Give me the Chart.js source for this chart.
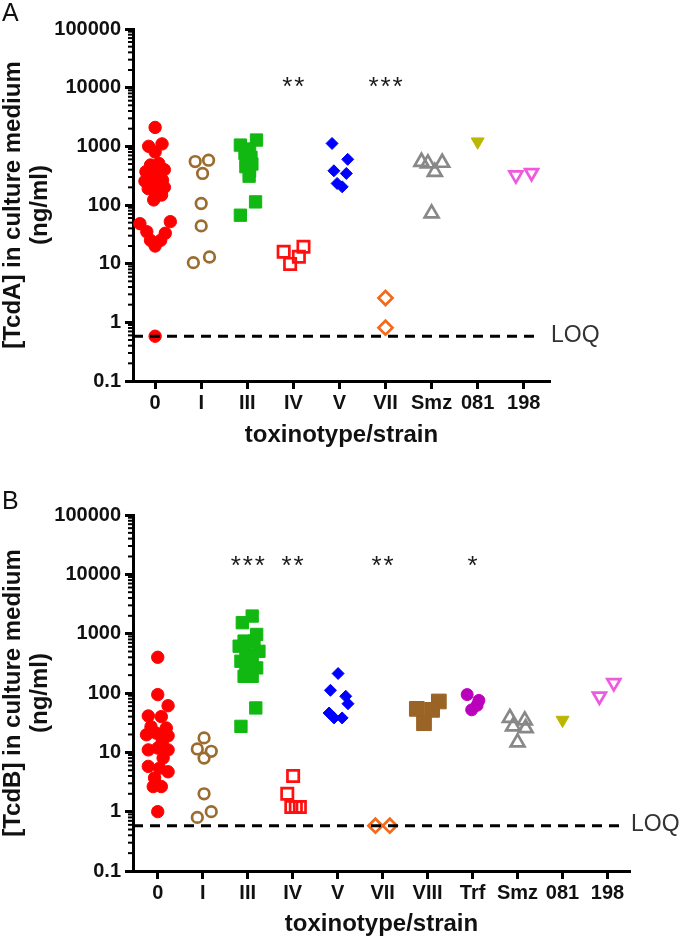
<!DOCTYPE html>
<html>
<head>
<meta charset="utf-8">
<script src="https://cdn.jsdelivr.net/npm/chart.js@4.4.1/dist/chart.umd.min.js"></script>
<style>
  body { margin: 0; background: #fff; }
  canvas { position: absolute; left: 0; }
</style>
</head>
<body>
<canvas id="chartA" width="680" height="470" style="top:0"></canvas>
<canvas id="chartB" width="680" height="473" style="top:470px"></canvas>
<script>
const FONT = "'Liberation Sans', Arial, sans-serif"

// shared y axis (ng/ml, log)
const yTicks = [0.1, 1, 10, 100, 1000, 10000, 100000]
const LOQ = 0.58

// panel A - TcdA
const catsA = ['0', 'I', 'III', 'IV', 'V', 'VII', 'Smz', '081', '198']
const starsA = ['', '', '', '**', '', '***', '', '', '']

const a0 = [2100, 1000, 1100, 800, 510, 480, 400, 370, 340, 290, 265, 255, 215, 200, 190, 160, 148, 122, 52, 48, 35, 33, 25, 25, 20, 0.58]
const a0x = [0, -0.14, 0.15, 0, 0.08, -0.1, 0.2, -0.2, 0.02, -0.08, 0.16, -0.22, 0.04, 0.2, -0.15, 0, 0.14, -0.03, 0.33, -0.33, -0.18, 0.22, -0.1, 0.12, 0, 0]
const aI = [550, 580, 345, 106, 44, 10.4, 13]
const aIx = [-0.13, 0.16, 0.03, 0, 0, -0.17, 0.18]
const aIII = [1050, 1280, 900, 760, 650, 580, 500, 450, 380, 310, 113, 67]
const aIIIx = [-0.15, 0.2, 0.05, -0.05, 0.08, -0.02, 0.1, -0.03, 0.05, 0.04, 0.18, -0.15]
const aIV = [16, 19.4, 13.1, 9.9]
const aIVx = [-0.21, 0.22, 0.12, -0.07]
const aV = [1120, 600, 383, 345, 233, 204]
const aVx = [-0.16, 0.18, -0.12, 0.15, -0.05, 0.06]
const aVII = [2.6, 0.81]
const aVIIx = [0, 0]
const aSmz = [545, 512, 525, 368, 72]
const aSmzx = [-0.22, -0.08, 0.23, 0.07, 0]
const a081 = [1200]
const a081x = [0]
const a198 = [323, 354]
const a198x = [-0.17, 0.17]

// panel B - TcdB
const catsB = ['0', 'I', 'III', 'IV', 'V', 'VII', 'VIII', 'Trf', 'Smz', '081', '198']
const starsB = ['', '', '***', '**', '', '**', '', '*', '', '', '']

const b0 = [400, 94, 61, 41, 40, 27, 25.7, 19.8, 21, 19, 15, 11, 11.8, 11, 8, 5.8, 5.4, 4.7, 3.7, 2.65, 2.65, 1.0]
const b0x = [0, 0, 0.23, -0.21, 0.08, -0.15, 0.19, -0.25, -0.03, 0.23, 0.1, -0.21, 0, 0.23, 0.12, -0.21, 0.04, 0.23, -0.07, -0.1, 0.08, 0]
const bI = [17.5, 11.4, 10.4, 8, 2.0, 1.0, 0.8]
const bIx = [0.03, -0.12, 0.19, 0.03, 0.03, 0.19, -0.12]
const bIII = [1980, 1530, 970, 750, 750, 615, 505, 505, 420, 366, 343, 300, 265, 265, 191, 191, 56, 27.4]
const bIIIx = [0.1, -0.12, 0.2, -0.08, 0.14, -0.19, -0.04, 0.25, 0.05, 0.1, -0.15, 0.05, -0.04, 0.2, -0.08, 0.1, 0.18, -0.15]
const bIV = [4.0, 2.0, 1.2, 1.2, 1.2]
const bIVx = [0.01, -0.12, -0.03, 0.07, 0.16]
const bV = [213, 111, 88, 66, 46, 38, 38]
const bVx = [0.01, -0.16, 0.18, 0.23, -0.19, -0.08, 0.1]
const bVII = [0.58, 0.58]
const bVIIx = [-0.16, 0.16]
const bVIII = [72, 54, 52, 31]
const bVIIIx = [0.25, -0.24, 0.1, -0.08]
const bTrf = [94, 75, 62, 52]
const bTrfx = [-0.12, 0.14, 0.1, -0.02]
const bSmz = [38, 34.5, 27.4, 25.5, 14.7]
const bSmzx = [-0.17, 0.16, -0.1, 0.18, 0]
const b081 = [35]
const b081x = [0]
const b198 = [88, 148]
const b198x = [-0.18, 0.14]

// marker look per toxinotype/strain
const markers = {
  '0': { color: '#ff0000', shape: 'circle', open: false, r: 6.2 },
  I: { color: '#9c6b2e', shape: 'circle', open: true, r: 5.3 },
  III: { color: '#12b812', shape: 'rect', open: false, r: 8.7 },
  IV: { color: '#ff1010', shape: 'rect', open: true, r: 8 },
  V: { color: '#0000ff', shape: 'rectRot', open: false, r: 6 },
  VII: { color: '#f26a1b', shape: 'rectRot', open: true, r: 7 },
  VIII: { color: '#9a6426', shape: 'rect', open: false, r: 10.4 },
  Trf: { color: '#bb00bb', shape: 'circle', open: false, r: 6 },
  Smz: { color: '#888888', shape: 'triangle', open: true, r: 8 },
  '081': { color: '#bdb600', shape: 'triangle', open: false, r: 7.5, rot: 180 },
  '198': { color: '#ee5ade', shape: 'triangle', open: true, r: 7.5, rot: 180 },
}

function group(cats, cat, vals, jit) {
  const m = markers[cat]
  const idx = cats.indexOf(cat)
  return {
    label: cat,
    data: vals.map((v, i) => ({ x: idx + jit[i], y: v })),
    pointStyle: m.shape,
    pointRotation: m.rot || 0,
    pointRadius: m.r,
    pointBorderWidth: m.open ? 2.7 : 1,
    pointBorderColor: m.color,
    pointBackgroundColor: m.open ? 'rgba(0,0,0,0)' : m.color,
    showLine: false,
    clip: false,
  }
}

const decor = {
  id: 'decor',
  afterDraw(chart, args, o) {
    const { ctx, chartArea: a, scales } = chart
    const x = scales.x
    const y = scales.y
    ctx.save()

    // minor log ticks
    ctx.strokeStyle = '#000'
    ctx.lineWidth = 2
    for (let k = -1; k < 5; k++) {
      for (let m = 2; m < 10; m++) {
        const py = y.getPixelForValue(m * Math.pow(10, k))
        ctx.beginPath()
        ctx.moveTo(a.left - 5, py)
        ctx.lineTo(a.left, py)
        ctx.stroke()
      }
    }

    // LOQ line
    const ly = y.getPixelForValue(LOQ)
    const lineEnd = a.right - 9
    ctx.setLineDash([10, 7])
    ctx.lineWidth = 3
    ctx.beginPath()
    ctx.moveTo(a.left, ly)
    ctx.lineTo(lineEnd, ly)
    ctx.stroke()
    ctx.setLineDash([])
    ctx.font = `23px ${FONT}`
    ctx.fillStyle = '#333'
    ctx.textAlign = 'left'
    ctx.textBaseline = 'middle'
    ctx.fillText('LOQ', lineEnd + 10, ly - 1)

    // significance stars
    ctx.font = `26px ${FONT}`
    ctx.fillStyle = '#1a1a1a'
    ctx.textAlign = 'center'
    ctx.textBaseline = 'alphabetic'
    const sy = y.getPixelForValue(o.starLevel) + 15
    o.stars.forEach((s, i) => {
      const cx = x.getPixelForValue(i)
      for (let j = 0; j < s.length; j++) {
        ctx.fillText('*', cx + (j - (s.length - 1) / 2) * 12, sy)
      }
    })

    // panel letter
    ctx.font = `25px ${FONT}`
    ctx.fillStyle = '#111'
    ctx.textAlign = 'left'
    ctx.textBaseline = 'top'
    ctx.fillText(o.letter, 2, o.letterTop)
    ctx.restore()
  },
}

function makeChart(id, cfg) {
  return new Chart(document.getElementById(id), {
    type: 'scatter',
    data: { datasets: cfg.datasets },
    options: {
      responsive: false,
      animation: false,
      events: [],
      layout: { padding: { top: cfg.top, right: cfg.right, left: 0, bottom: 0 } },
      plugins: {
        legend: { display: false },
        tooltip: { enabled: false },
        decor: { letter: cfg.letter, letterTop: cfg.letterTop, stars: cfg.stars, starLevel: cfg.starLevel },
      },
      scales: {
        x: {
          type: 'linear',
          min: cfg.xMin,
          max: cfg.xMax,
          afterBuildTicks: (s) => {
            s.ticks = cfg.cats.map((c, i) => ({ value: i }))
          },
          afterFit: (s) => {
            s.height = cfg.xHeight
          },
          ticks: {
            autoSkip: false,
            maxRotation: 0,
            padding: 2,
            color: '#111',
            font: { family: FONT, size: 20, weight: 'bold' },
            callback: (v, i) => cfg.cats[i],
          },
          grid: { drawOnChartArea: false, drawTicks: true, tickLength: 8, tickWidth: 3, tickColor: '#000' },
          border: { display: true, width: 3, color: '#000' },
          title: {
            display: true,
            text: 'toxinotype/strain',
            color: '#111',
            font: { family: FONT, size: 24, weight: 'bold', lineHeight: 1.125 },
            padding: { top: 0, bottom: cfg.xTitlePad },
          },
        },
        y: {
          type: 'logarithmic',
          min: 0.1,
          max: 100000,
          afterBuildTicks: (s) => {
            s.ticks = yTicks.map((v) => ({ value: v, major: true }))
          },
          afterFit: (s) => {
            s.width = 133
          },
          ticks: {
            autoSkip: false,
            padding: 4,
            color: '#111',
            font: { family: FONT, size: 20, weight: 'bold' },
            callback: (v) => String(v),
          },
          grid: { drawOnChartArea: false, drawTicks: true, tickLength: 8, tickWidth: 3, tickColor: '#000' },
          border: { display: true, width: 3, color: '#000' },
          title: {
            display: true,
            text: cfg.yTitle,
            color: '#111',
            font: { family: FONT, size: 24, weight: 'bold', lineHeight: 1.125 },
            padding: { top: 0, bottom: 0 },
          },
        },
      },
    },
    plugins: [decor],
  })
}

makeChart('chartA', {
  cats: catsA,
  stars: starsA,
  starLevel: 13400,
  letter: 'A',
  letterTop: 2,
  top: 29,
  right: 130,
  xHeight: 89,
  xTitlePad: 21,
  xMin: -0.48,
  xMax: 8.57,
  yTitle: ['[TcdA] in culture medium', '(ng/ml)'],
  datasets: [
    group(catsA, '0', a0, a0x),
    group(catsA, 'I', aI, aIx),
    group(catsA, 'III', aIII, aIIIx),
    group(catsA, 'IV', aIV, aIVx),
    group(catsA, 'V', aV, aVx),
    group(catsA, 'VII', aVII, aVIIx),
    group(catsA, 'Smz', aSmz, aSmzx),
    group(catsA, '081', a081, a081x),
    group(catsA, '198', a198, a198x),
  ],
})

makeChart('chartB', {
  cats: catsB,
  stars: starsB,
  starLevel: 17900,
  letter: 'B',
  letterTop: 20,
  top: 45,
  right: 50,
  xHeight: 72,
  xTitlePad: 5,
  xMin: -0.55,
  xMax: 10.5,
  yTitle: ['[TcdB] in culture medium', '(ng/ml)'],
  datasets: [
    group(catsB, '0', b0, b0x),
    group(catsB, 'I', bI, bIx),
    group(catsB, 'III', bIII, bIIIx),
    group(catsB, 'IV', bIV, bIVx),
    group(catsB, 'V', bV, bVx),
    group(catsB, 'VII', bVII, bVIIx),
    group(catsB, 'VIII', bVIII, bVIIIx),
    group(catsB, 'Trf', bTrf, bTrfx),
    group(catsB, 'Smz', bSmz, bSmzx),
    group(catsB, '081', b081, b081x),
    group(catsB, '198', b198, b198x),
  ],
})
</script>
</body>
</html>
